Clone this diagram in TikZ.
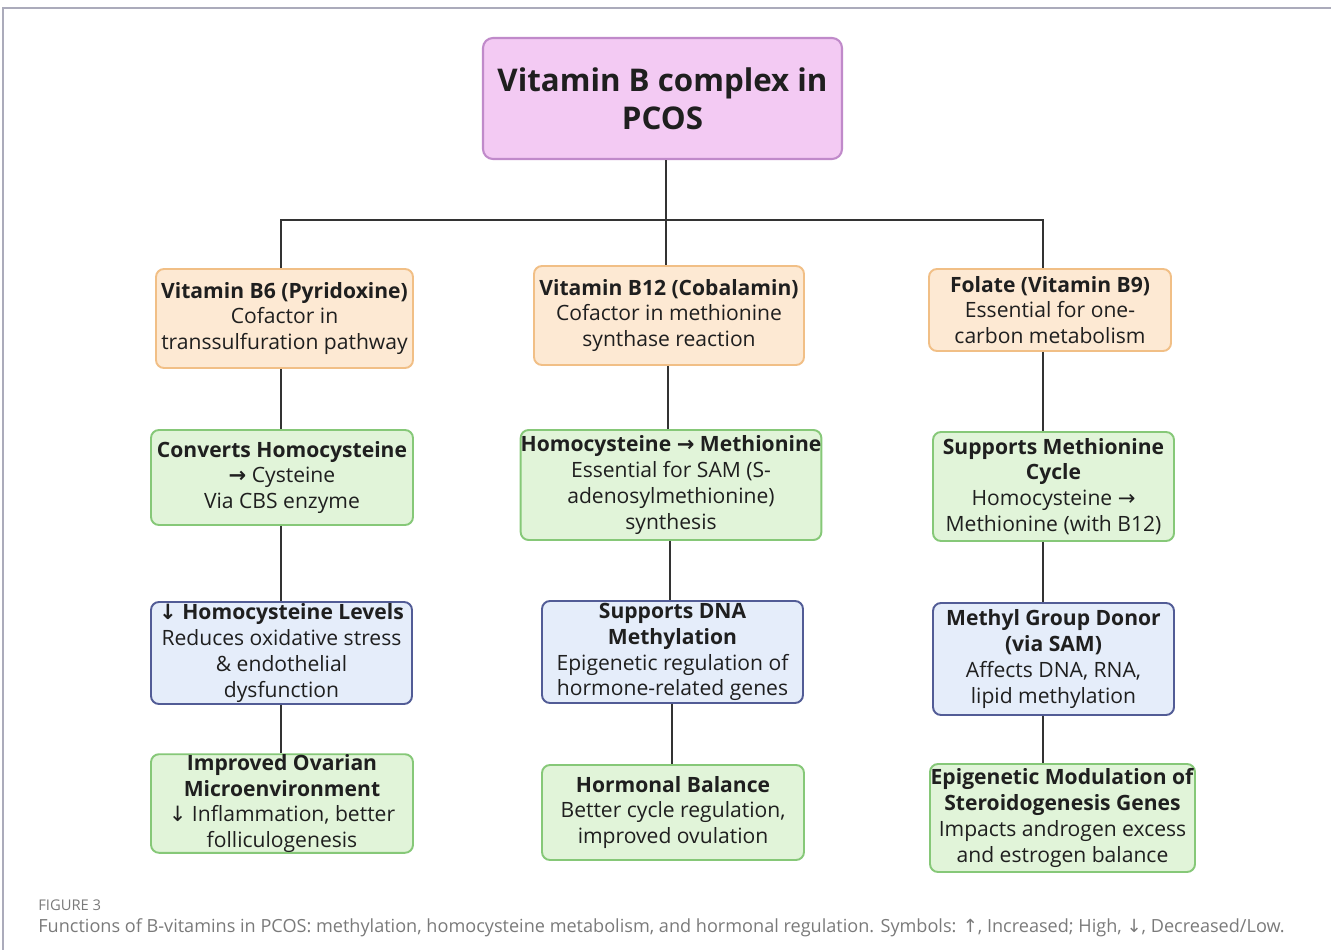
\documentclass[tikz,border=0pt]{standalone}
\usepackage{fontspec}
\setmainfont{Open Sans}
\newfontfamily\symfont{DejaVu Sans}
\usetikzlibrary{positioning}

\definecolor{headfill}{HTML}{F3CAF3}
\definecolor{headline}{HTML}{C08ACA}
\definecolor{vitfill}{HTML}{FDE9D3}
\definecolor{vitline}{HTML}{F1BF86}
\definecolor{stepfill}{HTML}{E1F4D9}
\definecolor{stepline}{HTML}{86C878}
\definecolor{efffill}{HTML}{E5EDFA}
\definecolor{effline}{HTML}{525C96}
\definecolor{framegray}{HTML}{ABABBB}
\definecolor{capgray}{HTML}{7A7A7A}

\newcommand{\arrR}{{\symfont →}}
\newcommand{\arrRb}{{\symfont\bfseries →}}
\newcommand{\arrD}{{\symfont ↓}}
\newcommand{\arrDb}{{\symfont\bfseries ↓}}
\newcommand{\arrU}{{\symfont ↑}}

\tikzset{
  flowline/.style={draw=black!80, line width=0.8pt},
  headbox/.style={draw=headline, fill=headfill, line width=1.2pt, rounded corners=0.2cm, align=center,
    font=\fontsize{17.8}{21.5}\selectfont\bfseries},
  vitbox/.style={draw=vitline, fill=vitfill, line width=1.1pt, rounded corners=0.16cm, align=center, inner sep=0pt},
  stepbox/.style={draw=stepline, fill=stepfill, line width=1.1pt, rounded corners=0.16cm, align=center, inner sep=0pt},
  effectbox/.style={draw=effline, fill=efffill, line width=1.1pt, rounded corners=0.16cm, align=center, inner sep=0pt}
}

\begin{document}
\begin{tikzpicture}[every node/.style={font=\fontsize{12}{14.7}\selectfont, text=black!88}]
  \useasboundingbox (0,0) rectangle (26.62,-19.0);
  % page frame
  \draw[framegray, line width=0.6pt] (0.06,-19.0) -- (0.06,-0.16) -- (26.62,-0.16);

  \node[headbox, minimum width=7.18cm, minimum height=2.42cm] (title) at (13.25,-1.97) {Vitamin B complex in\\PCOS};

  % vitamins
  \node[vitbox, minimum width=5.14cm, minimum height=1.98cm] (b6) at (5.69,-6.37)
    {\textbf{Vitamin B6 (Pyridoxine)}\\Cofactor in\\transsulfuration pathway};
  \node[vitbox, minimum width=5.40cm, minimum height=1.98cm] (b12) at (13.38,-6.31)
    {\textbf{Vitamin B12 (Cobalamin)}\\Cofactor in methionine\\synthase reaction};
  \node[vitbox, minimum width=4.84cm, minimum height=1.64cm] (folate) at (21.00,-6.20)
    {\textbf{Folate (Vitamin B9)}\\Essential for one-\\carbon metabolism};

  % mechanisms
  \node[stepbox, minimum width=5.24cm, minimum height=1.90cm] (convert) at (5.64,-9.55)
    {\textbf{Converts Homocysteine}\\\arrRb{} Cysteine\\Via CBS enzyme};
  \node[stepbox, minimum width=6.00cm, minimum height=2.20cm] (hcymet) at (13.42,-9.70)
    {\textbf{Homocysteine \arrRb{} Methionine}\\Essential for SAM (S-\\adenosylmethionine)\\synthesis};
  \node[stepbox, minimum width=4.82cm, minimum height=2.18cm] (metcycle) at (21.07,-9.73)
    {\textbf{Supports Methionine}\\\textbf{Cycle}\\Homocysteine \arrR\\Methionine (with B12)};

  % effects
  \node[effectbox, minimum width=5.22cm, minimum height=2.04cm] (hcylow) at (5.63,-13.06)
    {\textbf{\arrDb{} Homocysteine Levels}\\Reduces oxidative stress\\\& endothelial\\dysfunction};
  \node[effectbox, minimum width=5.22cm, minimum height=2.04cm] (dnameth) at (13.45,-13.04)
    {\textbf{Supports DNA}\\\textbf{Methylation}\\Epigenetic regulation of\\hormone-related genes};
  \node[effectbox, minimum width=4.82cm, minimum height=2.24cm] (donor) at (21.07,-13.18)
    {\textbf{Methyl Group Donor}\\\textbf{(via SAM)}\\Affects DNA, RNA,\\lipid methylation};

  % outcomes
  \node[stepbox, minimum width=5.24cm, minimum height=1.94cm] (ovary) at (5.64,-16.07)
    {\textbf{Improved Ovarian}\\\textbf{Microenvironment}\\\arrD{} Inflammation, better\\folliculogenesis};
  \node[stepbox, minimum width=5.24cm, minimum height=1.90cm] (hormone) at (13.46,-16.25)
    {\textbf{Hormonal Balance}\\Better cycle regulation,\\improved ovulation};
  \node[stepbox, minimum width=5.30cm, minimum height=2.16cm] (epigen) at (21.25,-16.36)
    {\textbf{Epigenetic Modulation of}\\\textbf{Steroidogenesis Genes}\\Impacts androgen excess\\and estrogen balance};

  % tree
  \coordinate (bus) at (13.32,-4.40);
  \draw[flowline] (title.south -| bus) -- (bus);
  \draw[flowline] (b6.north -| 5.62,0) |- (bus) -| (folate.north -| 20.86,0);
  \draw[flowline] (bus) -- (b12.north -| bus);
  \foreach \a/\b/\x in {b6/convert/5.62, convert/hcylow/5.62, hcylow/ovary/5.62,
                        b12/hcymet/13.36, hcymet/dnameth/13.40, dnameth/hormone/13.44,
                        folate/metcycle/20.86, metcycle/donor/20.86, donor/epigen/20.86}
    \draw[flowline] (\a.south -| \x,0) -- (\b.north -| \x,0);

  % caption
  \node[anchor=west, inner sep=0pt, text=capgray, font=\fontsize{8.4}{9}\selectfont] (figlabel) at (0.76,-18.10) {FIGURE 3};
  \node[anchor=west, inner sep=0pt, text=capgray, font=\fontsize{10.3}{12}\selectfont] (figcaption) at (0.76,-18.56)
    {Functions of B-vitamins in PCOS: methylation, homocysteine metabolism, and hormonal regulation. Symbols: \arrU, Increased; High, \arrD, Decreased/Low.};
\end{tikzpicture}
\end{document}
